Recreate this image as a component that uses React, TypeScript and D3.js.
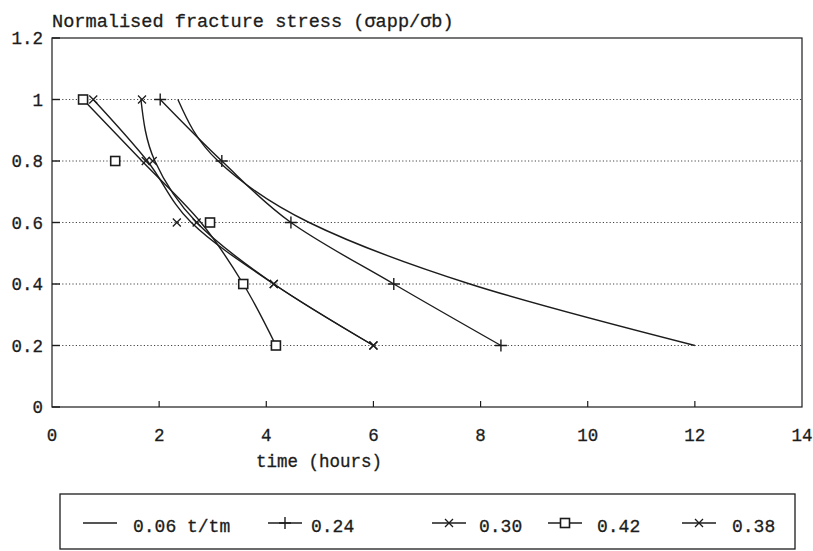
import React, { useEffect, useRef } from 'react';
import * as d3 from 'd3';

// stress levels (y) at which every series was measured
const stressLevels = [1.0, 0.8, 0.6, 0.4, 0.2];
const yTicks = [0, 0.2, 0.4, 0.6, 0.8, 1, 1.2];
const xTicks = [0, 2, 4, 6, 8, 10, 12, 14];
const gridLevels = [0.2, 0.4, 0.6, 0.8, 1.0];

// time (hours) at each stress level: drawn curve and plotted points
const curve006 = [2.35, 3.1, 4.8, 7.8, 12.0];
const curve024 = [2.02, 3.17, 4.46, 6.38, 8.38];
const points024 = [2.02, 3.17, 4.46, 6.38, 8.38];
const curve030 = [1.66, 1.92, 2.7, 4.14, 6.0];
const points030 = [1.68, 1.88, 2.7, 4.14, 6.0];
const curve042 = [0.58, 1.68, 2.78, 3.57, 4.18];
const points042 = [0.58, 1.18, 2.95, 3.57, 4.18];
const curve038 = [0.77, 1.78, 2.6, 4.14, 6.0];
const points038 = [0.77, 1.75, 2.33, 4.14, 6.0];

const seriesNames = ['0.06 t/tm', '0.24', '0.30', '0.42', '0.38'];
const seriesMarks = ['none', 'plus', 'cross', 'square', 'cross'];
const seriesCurves = [curve006, curve024, curve030, curve042, curve038];
const seriesPoints = [[], points024, points030, points042, points038];

const FONT = "'Liberation Mono', 'DejaVu Sans Mono', monospace";
const INK = '#1c1c1c';

function drawMark(g: any, kind: string, cx: number, cy: number) {
  if (kind === 'plus') {
    g.append('path').attr('d', `M${cx - 6},${cy}H${cx + 6}M${cx},${cy - 6}V${cy + 6}`)
      .attr('stroke', INK).attr('stroke-width', 1.4).attr('fill', 'none');
  } else if (kind === 'cross') {
    g.append('path').attr('d', `M${cx - 4},${cy - 4}L${cx + 4},${cy + 4}M${cx - 4},${cy + 4}L${cx + 4},${cy - 4}`)
      .attr('stroke', INK).attr('stroke-width', 1.3).attr('fill', 'none');
  } else if (kind === 'square') {
    g.append('rect').attr('x', cx - 4.5).attr('y', cy - 4.5).attr('width', 9).attr('height', 9)
      .attr('stroke', INK).attr('stroke-width', 1.6).attr('fill', 'white');
  }
}

function label(g: any, x: number, y: number, size: number, anchor: string, s: string) {
  g.append('text').attr('x', x).attr('y', y)
    .attr('text-anchor', anchor).attr('font-family', FONT).attr('font-size', size)
    .attr('fill', INK).attr('stroke', INK).attr('stroke-width', 0.3)
    .text(s);
}

export default function App() {
  const ref = useRef<SVGSVGElement>(null);

  useEffect(() => {
    const svg = d3.select(ref.current);
    svg.selectAll('*').remove();

    const left = 52, right = 802, top = 38, bottom = 407;
    const x = d3.scaleLinear().domain([0, 14]).range([left, right]);
    const y = d3.scaleLinear().domain([0, 1.2]).range([bottom, top]);

    svg.append('rect').attr('width', 813).attr('height', 551).attr('fill', 'white');

    // dotted grid
    svg.selectAll('.grid').data(gridLevels).enter().append('line')
      .attr('class', 'grid')
      .attr('x1', left).attr('x2', right)
      .attr('y1', d => y(d)).attr('y2', d => y(d))
      .attr('stroke', '#444').attr('stroke-width', 1)
      .attr('stroke-dasharray', '1.2,2.2');

    // frame
    svg.append('rect').attr('x', left).attr('y', top)
      .attr('width', right - left).attr('height', bottom - top)
      .attr('fill', 'none').attr('stroke', INK).attr('stroke-width', 1.2);

    // y ticks + labels
    const yAxis = svg.append('g');
    yTicks.forEach(t => {
      yAxis.append('line').attr('x1', left).attr('x2', left + 8)
        .attr('y1', y(t)).attr('y2', y(t)).attr('stroke', INK).attr('stroke-width', 1.4);
      label(yAxis, left - 9, y(t) + 6, 17.5, 'end', d3.format('~g')(t));
    });

    // x ticks + labels
    const xAxis = svg.append('g');
    xTicks.forEach(t => {
      if (t > 0 && t < 14)
        xAxis.append('line').attr('x1', x(t)).attr('x2', x(t))
          .attr('y1', bottom).attr('y2', bottom - 6).attr('stroke', INK).attr('stroke-width', 1.2);
      label(xAxis, x(t), 441, 17.5, 'middle', String(t));
    });

    label(svg, 319, 467, 17.5, 'middle', 'time (hours)');
    label(svg, 52, 27, 18.6, 'start', 'Normalised fracture stress (σapp/σb)');

    // series curves
    const line = d3.line<number>()
      .x(d => x(d))
      .y((d, i) => y(stressLevels[i]))
      .curve(d3.curveMonotoneY);

    seriesCurves.forEach(c => {
      svg.append('path').datum(c).attr('d', line)
        .attr('fill', 'none').attr('stroke', INK).attr('stroke-width', 1.4);
    });

    const marks = svg.append('g');
    seriesPoints.forEach((pts, s) => {
      pts.forEach((t, i) => drawMark(marks, seriesMarks[s], x(t), y(stressLevels[i])));
    });

    // legend
    const lg = svg.append('g');
    lg.append('rect').attr('x', 60).attr('y', 494).attr('width', 735).attr('height', 55)
      .attr('fill', 'white').attr('stroke', INK).attr('stroke-width', 1.3);
    const sampleX = [83, 268, 432, 548, 682];
    const textX = [133, 311, 479, 597, 732];
    seriesNames.forEach((name, s) => {
      const x0 = sampleX[s], ly = 523;
      lg.append('line').attr('x1', x0).attr('x2', x0 + 34).attr('y1', ly).attr('y2', ly)
        .attr('stroke', INK).attr('stroke-width', 1.4);
      drawMark(lg, seriesMarks[s], x0 + 17, ly);
      label(lg, textX[s], 532, 18, 'start', name);
    });
  }, []);

  return (
    <svg ref={ref} width={813} height={551} style={{ display: 'block', position: 'absolute', left: 0, top: 0 }} />
  );
}
